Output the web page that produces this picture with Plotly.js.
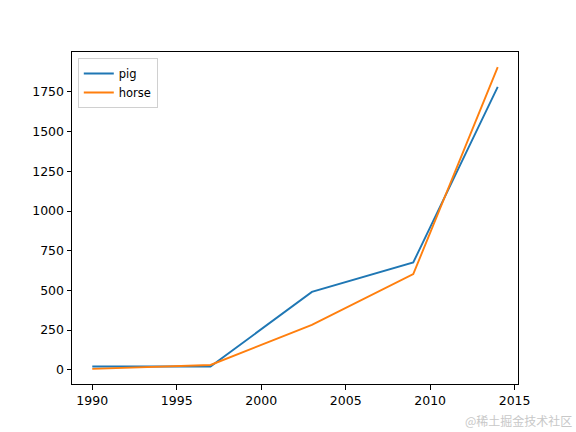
<!DOCTYPE html>
<html>
<head>
<meta charset="utf-8">
<script src="https://cdn.plot.ly/plotly-3.0.1.min.js"></script>
<style>html,body{margin:0;padding:0;background:#fff;}#chart{width:576px;height:432px;}</style>
</head>
<body>
<div id="chart"></div>
<script>
var years = [1990, 1997, 2003, 2009, 2014];
var pig = [20, 20, 490, 676, 1782];
var horse = [5, 30, 282, 602, 1907];
var xTicks = [1990, 1995, 2000, 2005, 2010, 2015];
var yTicks = [0, 250, 500, 750, 1000, 1250, 1500, 1750];

var traces = [
  {x: years, y: pig, name: 'pig', mode: 'lines', line: {color: '#1f77b4', width: 1.9}},
  {x: years, y: horse, name: 'horse', mode: 'lines', line: {color: '#ff7f0e', width: 1.9}}
];

var axisCommon = {
  showgrid: false, zeroline: false, showline: true, mirror: true,
  linecolor: '#000', linewidth: 1, ticks: 'outside', ticklen: 4.5, tickwidth: 1,
  tickcolor: '#000', tickfont: {family: 'DejaVu Sans', size: 12.5, color: '#000'}
};

var layout = {
  width: 576, height: 432,
  margin: {l: 72, r: 58, t: 52, b: 48},
  paper_bgcolor: '#fff', plot_bgcolor: '#fff',
  showlegend: true,
  legend: {x: 0.013, y: 0.982, xanchor: 'left', yanchor: 'top',
    bordercolor: '#d0d0d0', borderwidth: 1, bgcolor: 'rgba(255,255,255,0.8)',
    font: {family: 'DejaVu Sans', size: 11.5, color: '#000'}},
  xaxis: Object.assign({}, axisCommon, {range: [1988.8, 2015.2], tickvals: xTicks, ticktext: xTicks.map(String)}),
  yaxis: Object.assign({}, axisCommon, {range: [-90, 2002], tickvals: yTicks, ticktext: yTicks.map(String)}),
  annotations: [{
    text: '@稀土掘金技术社区', xref: 'paper', yref: 'paper', x: 1.125, y: -0.11,
    xanchor: 'right', yanchor: 'middle', showarrow: false,
    font: {family: 'Noto Sans CJK SC', size: 12, color: '#c8c8c8'}
  }]
};

Plotly.newPlot('chart', traces, layout, {displayModeBar: false});
</script>
</body>
</html>
